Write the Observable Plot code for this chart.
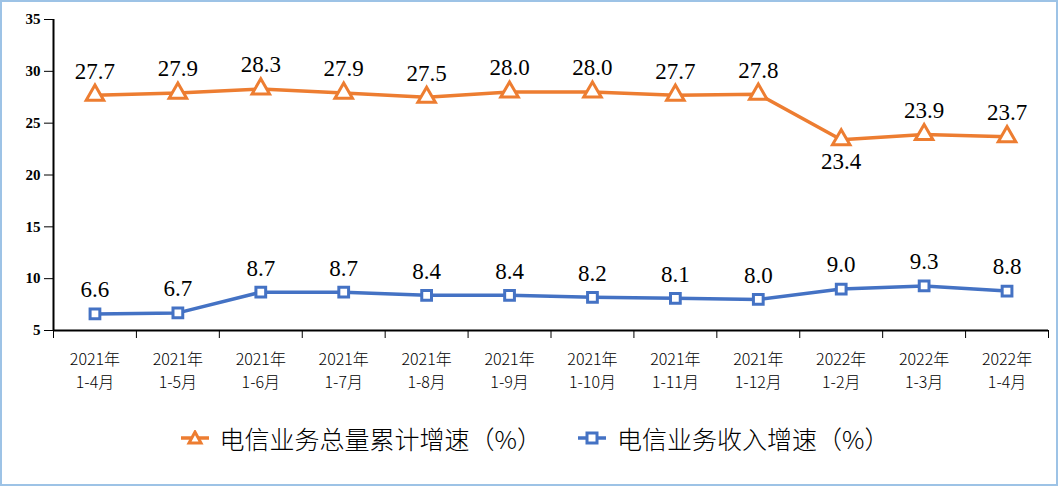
<!DOCTYPE html>
<html>
<head>
<meta charset="utf-8">
<script src="https://cdn.jsdelivr.net/npm/d3@7"></script>
<script src="https://cdn.jsdelivr.net/npm/@observablehq/plot@0.6"></script>
<style>
  html, body { margin: 0; padding: 0; background: #fff; }
  #wrap { position: relative; width: 1058px; height: 486px; overflow: hidden; background: #fff; }
  #frame { position: absolute; left: 0; top: 0; width: 1058px; height: 486px; box-sizing: border-box; border: 2px solid #9dc3e6; pointer-events: none; }
  #chart { position: absolute; left: 0; top: 0; }
  #legend { position: absolute; left: 0; top: 423px; width: 1058px; height: 30px; display: flex; justify-content: center; align-items: center; font-family: "Noto Sans CJK SC", sans-serif; font-size: 25px; font-weight: 300; color: #000; padding-left: 12px; box-sizing: border-box; }
  .item { display: flex; align-items: center; margin: 0 18px; }
  .item svg { margin-right: 11px; }
</style>
</head>
<body>
<div id="wrap">
  <div id="chart"></div>
  <div id="legend"></div>
  <div id="frame"></div>
</div>
<script>
const months = ["2021年\n1-4月","2021年\n1-5月","2021年\n1-6月","2021年\n1-7月","2021年\n1-8月","2021年\n1-9月","2021年\n1-10月","2021年\n1-11月","2021年\n1-12月","2022年\n1-2月","2022年\n1-3月","2022年\n1-4月"];
const totalGrowth = [27.7,27.9,28.3,27.9,27.5,28.0,28.0,27.7,27.8,23.4,23.9,23.7];
const revenueGrowth = [6.6,6.7,8.7,8.7,8.4,8.4,8.2,8.1,8.0,9.0,9.3,8.8];
const yTicks = [5,10,15,20,25,30,35];
const seriesNames = ["电信业务总量累计增速（%）","电信业务收入增速（%）"];
const seriesColors = ["#ed7d31","#4472c4"];
const labelBelow = [false,false,false,false,false,false,false,false,false,true,false,false];

const n = months.length;
const rows = [];
totalGrowth.forEach((v,i)=>rows.push({i, value:v, series:seriesNames[0], below: labelBelow[i]}));
revenueGrowth.forEach((v,i)=>rows.push({i, value:v, series:seriesNames[1], below:false}));
const totalRows = rows.filter(d=>d.series===seriesNames[0]);
const revRows = rows.filter(d=>d.series===seriesNames[1]);
const xDomain = [-0.5, n-0.5];
const boundaries = d3.range(-0.5, n, 1);

const chart = Plot.plot({
  width: 1058,
  height: 400,
  marginLeft: 53,
  marginRight: 10,
  marginTop: 19,
  marginBottom: 70,
  x: {type:"linear", domain: xDomain},
  y: {domain: [yTicks[0], yTicks[yTicks.length-1]]},
  color: {domain: seriesNames, range: seriesColors},
  style: {background:"transparent", color:"#000"},
  marks: [
    Plot.axisY({ticks: yTicks, tickSize: 9, tickPadding: 4, label: null, stroke:"#000", fontFamily: "Liberation Serif", fontWeight: "bold", fontSize: 15}),
    Plot.axisX({ticks: boundaries, tickSize: 8, tickFormat: () => "", label: null, stroke:"#000"}),
    Plot.axisX({ticks: d3.range(n), tickSize: 0, tickPadding: 18, tickFormat: i => months[i], lineHeight: 1.45, label: null, fontFamily: "Noto Sans CJK SC", fontWeight: 300, fontSize: 16}),
    Plot.ruleX([xDomain[0]], {stroke:"#000", strokeWidth: 2}),
    Plot.ruleY([yTicks[0]], {stroke:"#000", strokeWidth: 2}),
    Plot.line(rows, {x:"i", y:"value", z:"series", stroke:"series", strokeWidth: 3.5}),
    Plot.dot(totalRows, {x:"i", y:"value", symbol:"triangle", r: 6.5, fill:"#fff", stroke: seriesColors[0], strokeWidth: 3}),
    Plot.dot(revRows, {x:"i", y:"value", symbol:"square", r: 5.5, fill:"#fff", stroke: seriesColors[1], strokeWidth: 3}),
    Plot.text(rows.filter(d=>!d.below), {x:"i", y:"value", text: d=>d.value.toFixed(1), dy: -24, fontFamily: "Liberation Serif", fontSize: 23, fill:"#000"}),
    Plot.text(rows.filter(d=>d.below), {x:"i", y:"value", text: d=>d.value.toFixed(1), dy: 22, fontFamily: "Liberation Serif", fontSize: 23, fill:"#000"})
  ]
});
document.getElementById("chart").appendChild(chart);

const legend = document.getElementById("legend");
seriesNames.forEach((name, k) => {
  const item = document.createElement("div");
  item.className = "item";
  const c = seriesColors[k];
  const icon = k === 0
    ? `<svg width="28" height="16"><line x1="0" y1="8" x2="28" y2="8" stroke="${c}" stroke-width="3.5"/><path d="M14,2 L20,13 L8,13 Z" fill="#fff" stroke="${c}" stroke-width="3"/></svg>`
    : `<svg width="28" height="16"><line x1="0" y1="8" x2="28" y2="8" stroke="${c}" stroke-width="3.5"/><rect x="9" y="3" width="10" height="10" fill="#fff" stroke="${c}" stroke-width="3"/></svg>`;
  item.innerHTML = icon + `<span>${name}</span>`;
  legend.appendChild(item);
});
</script>
</body>
</html>
